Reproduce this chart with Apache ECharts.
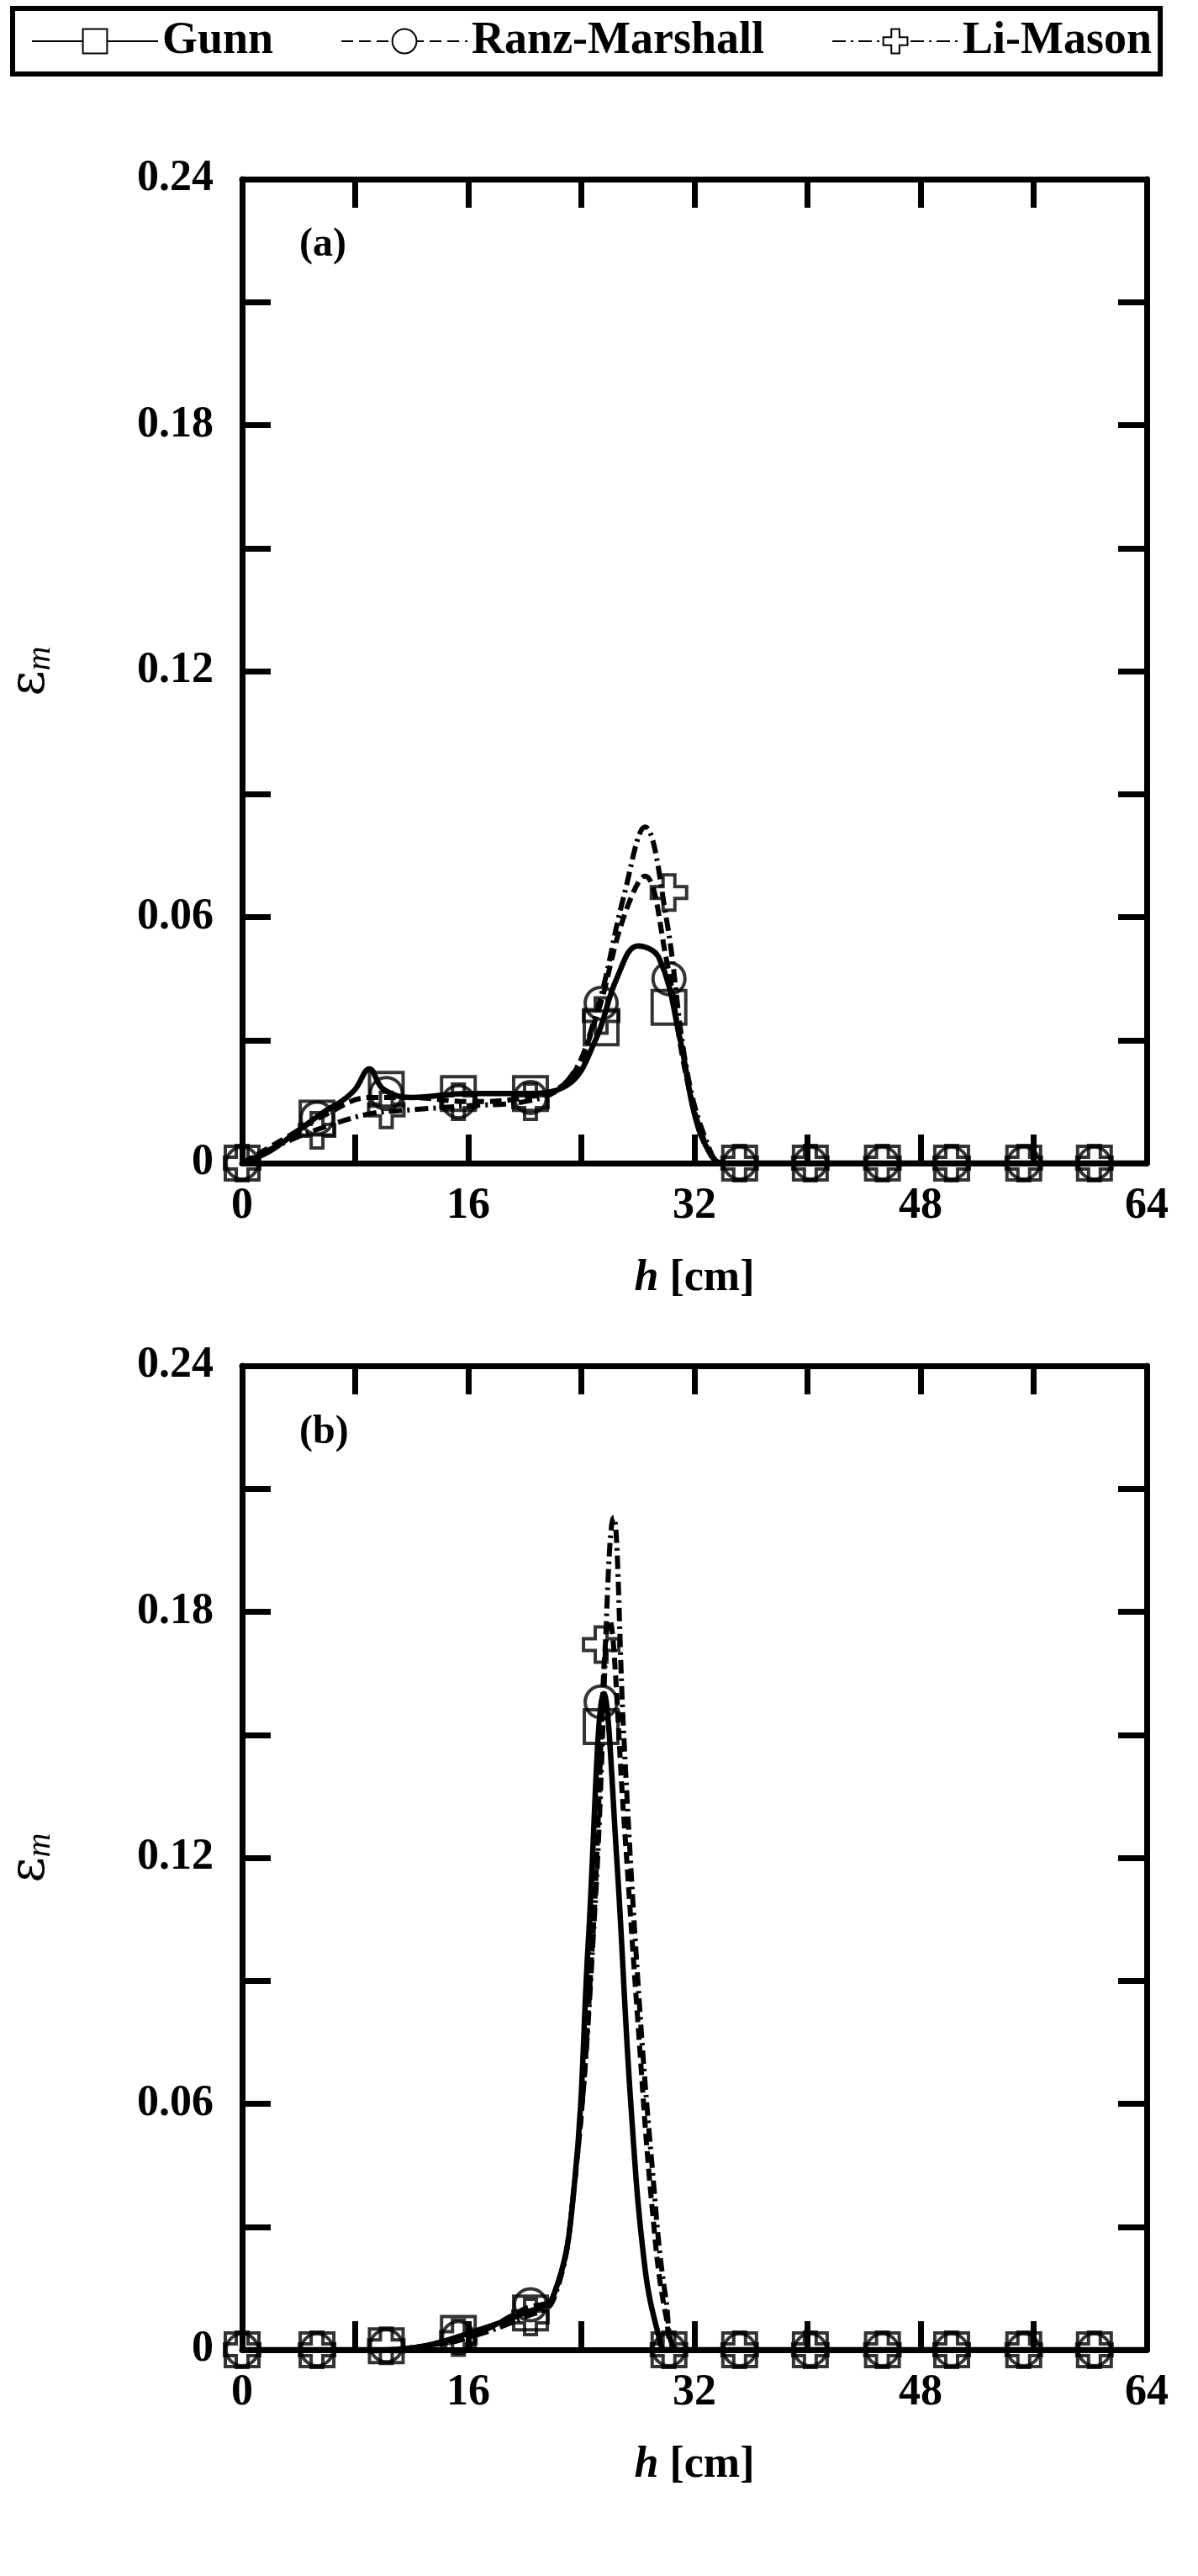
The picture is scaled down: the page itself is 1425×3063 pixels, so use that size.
<!DOCTYPE html>
<html><head><meta charset="utf-8">
<script src="https://cdn.jsdelivr.net/npm/echarts@6/dist/echarts.min.js"></script>
<style>html,body{margin:0;background:#fff}#c{width:1425px;height:3063px}</style>
</head><body><div id="c"></div>
<script>
// marker positions (h, cm)
const hPts = [0,5.3,10.2,15.3,20.4,25.4,30.2,35.2,40.2,45.3,50.2,55.3,60.3];
// panel (a) markers
const aGunn = [0,0.011,0.018,0.017,0.017,0.033,0.038,0,0,0,0,0,0];
const aRM   = [0,0.011,0.017,0.015,0.016,0.039,0.045,0,0,0,0,0,0];
const aLM   = [0,0.008,0.013,0.015,0.015,0.036,0.066,0,0,0,0,0,0];
// panel (b) markers
const bGunn = [0,0,0.001,0.004,0.009,0.152,0,0,0,0,0,0,0];
const bRM   = [0,0,0.001,0.003,0.011,0.158,0,0,0,0,0,0,0];
const bLM   = [0,0,0.001,0.003,0.008,0.172,0,0,0,0,0,0,0];
// curves (a)
const aGunnCurve = [[0,0],[2,0.003],[4,0.008],[6,0.013],[7,0.015],[8,0.018],[9,0.023],[10,0.018],[12,0.016],[16,0.017],[20,0.017],[23,0.019],[25,0.03],[26.5,0.045],[28,0.053],[29.5,0.05],[31,0.03],[32,0.012],[33,0.003],[34,0],[64,0]];
const aRMCurve = [[0,0],[3,0.006],[6,0.012],[9,0.016],[12,0.016],[16,0.015],[20,0.016],[23,0.02],[25,0.035],[27,0.06],[28.5,0.07],[30,0.05],[31.5,0.02],[33,0.003],[34,0],[64,0]];
const aLMCurve = [[0,0],[3,0.005],[6,0.009],[9,0.012],[12,0.013],[16,0.014],[20,0.015],[23,0.02],[25,0.036],[27,0.065],[28.5,0.082],[30,0.06],[31.5,0.022],[33,0.004],[34,0],[64,0]];
// curves (b)
const bGunnCurve = [[0,0],[10,0],[13,0.001],[16,0.004],[20,0.009],[22,0.013],[23.5,0.04],[24.5,0.1],[25.6,0.16],[26.5,0.12],[27.5,0.06],[28.5,0.02],[29.5,0.003],[30,0],[64,0]];
const bRMCurve = [[0,0],[10,0],[13,0.001],[16,0.003],[20,0.01],[22,0.013],[23.5,0.04],[24.8,0.1],[26,0.178],[27,0.13],[28,0.08],[29,0.035],[30,0.008],[31,0],[64,0]];
const bLMCurve = [[0,0],[10,0],[13,0.001],[16,0.003],[20,0.008],[22,0.012],[23.5,0.04],[25,0.11],[26.3,0.203],[27,0.15],[28,0.09],[29,0.045],[30,0.012],[31,0],[64,0]];
const names = ['Gunn','Ranz-Marshall','Li-Mason'];

const F = 'Liberation Serif';
const plus = 'path://M-1,-3L1,-3L1,-1L3,-1L3,1L1,1L1,3L-1,3L-1,1L-3,1L-3,-1L-1,-1Z';
const syms = ['rect','circle',plus];
const dashes = ['solid',[14,7],[16,6,3,6]];
const tops = [213,1624];
const chart = echarts.init(document.getElementById('c'));
const grids=[],xA=[],yA=[],series=[];
const marks=[[aGunn,aRM,aLM],[bGunn,bRM,bLM]];
const curves=[[aGunnCurve,aRMCurve,aLMCurve],[bGunnCurve,bRMCurve,bLMCurve]];
const tick={show:true,inside:true,length:34,lineStyle:{width:7,color:'#000'}};
const axl={onZero:false,lineStyle:{width:7,color:'#000'}};
for(let p=0;p<2;p++){
  grids.push({left:281,top:tops[p],width:1083,height:1170});
  const lbl={fontFamily:F,fontWeight:'bold',fontSize:52,color:'#000'};
  xA.push({type:'value',gridIndex:p,min:0,max:64,interval:8,position:'bottom',
    axisLine:axl,axisTick:tick,splitLine:{show:false},
    axisLabel:Object.assign({margin:26,formatter:v=>v%16===0?v:''},lbl),
    name:'{i|h} [cm]',nameLocation:'middle',nameGap:112,
    nameTextStyle:{fontFamily:F,fontWeight:'bold',fontSize:52,color:'#000',rich:{i:{fontFamily:F,fontStyle:'italic',fontWeight:'bold',fontSize:52}}}});
  xA.push({type:'value',gridIndex:p,min:0,max:64,interval:8,position:'top',
    axisLine:axl,axisTick:tick,axisLabel:{show:false},splitLine:{show:false}});
  yA.push({type:'value',gridIndex:p,min:0,max:0.24,interval:0.03,position:'left',
    axisLine:axl,axisTick:tick,splitLine:{show:false},
    axisLabel:Object.assign({margin:34,formatter:v=>{const k=Math.round(v/0.03);return k%2===0?(k===0?'0':v.toFixed(2)):''}},lbl),
    name:'ε{s|m}',nameLocation:'middle',nameGap:220,nameRotate:90,
    nameTextStyle:{fontFamily:'DejaVu Serif',fontSize:58,color:'#000',rich:{s:{fontFamily:F,fontStyle:'italic',fontSize:40,padding:[22,0,0,0]}}}});
  yA.push({type:'value',gridIndex:p,min:0,max:0.24,interval:0.03,position:'right',
    axisLine:axl,axisTick:tick,axisLabel:{show:false},splitLine:{show:false}});
  for(let s=0;s<3;s++){
    series.push({type:'line',name:names[s],xAxisIndex:2*p,yAxisIndex:2*p,data:curves[p][s],smooth:0.4,
      symbol:syms[s],symbolSize:s===1?32:36,showSymbol:false,z:3,
      itemStyle:{color:'#fff',borderColor:'#000',borderWidth:4},
      lineStyle:{color:'#000',width:s===0?6.5:6,type:dashes[s]}});
  }
  for(let s=2;s>=0;s--){
    series.push({type:'scatter',xAxisIndex:2*p,yAxisIndex:2*p,data:hPts.map((h,i)=>[h,marks[p][s][i]]),
      symbol:syms[s],symbolSize:s===1?38:(s===0?40:42),z:6-s,
      itemStyle:{color:'rgba(255,255,255,0)',borderColor:'#000',borderWidth:4}});
  }
}
chart.setOption({
  animation:false,backgroundColor:'#fff',
  grid:grids,xAxis:xA,yAxis:yA,series:series,
  legend:{data:names,left:15,top:10,padding:[12,10,12,22],itemGap:80,itemWidth:150,itemHeight:36,
    borderColor:'#000',borderWidth:6,
    textStyle:{fontFamily:F,fontWeight:'bold',fontSize:54,color:'#000'}},
  graphic:[
    {type:'text',left:356,top:268,style:{text:'(a)',font:'bold 48px "Liberation Serif"',fill:'#000'}},
    {type:'text',left:356,top:1680,style:{text:'(b)',font:'bold 48px "Liberation Serif"',fill:'#000'}}
  ]
});
</script></body></html>
